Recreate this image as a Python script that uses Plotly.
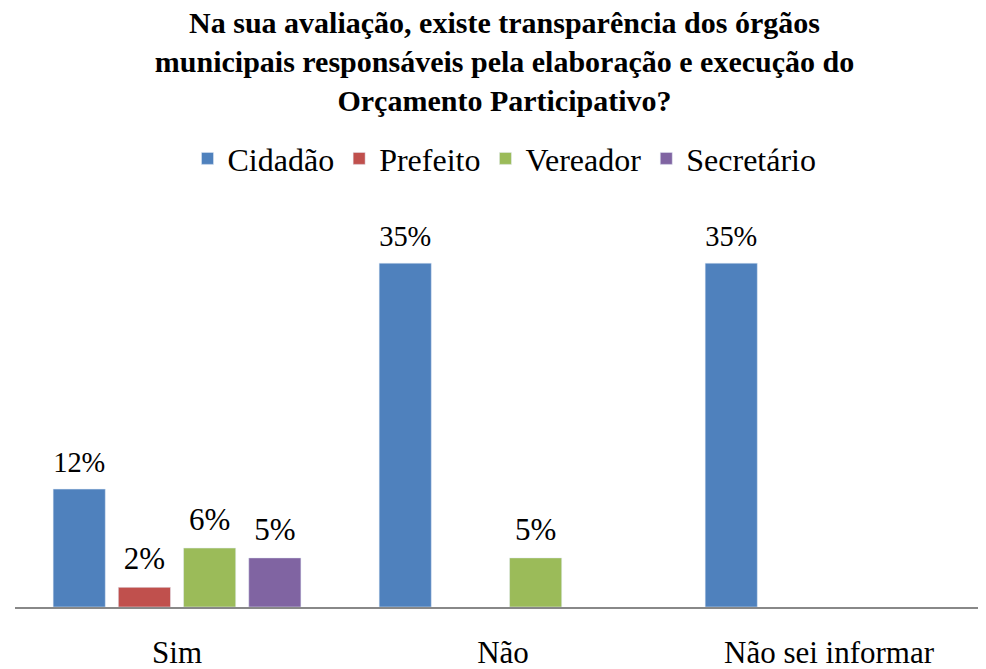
import plotly.graph_objects as go

categories = ["Sim", "Não", "Não sei informar"]
series_names = ["Cidadão", "Prefeito", "Vereador", "Secretário"]
cidadao = [12, 35, 35]
prefeito = [2, None, None]
vereador = [6, 5, None]
secretario = [5, None, None]
colors = ["#4F81BD", "#C0504D", "#9BBB59", "#8064A2"]

title_text = ("<b>Na sua avaliação, existe transparência dos órgãos<br>"
              "municipais responsáveis pela elaboração e execução do<br>"
              "Orçamento Participativo?</b>")

serif = "Liberation Serif, Times New Roman, serif"


def label(v):
    # small blank second line lifts the label a little higher above the bar
    if v is None:
        return ""
    return f"<span style='font-size:31px'>{v}%</span><br> "


fig = go.Figure()
for name, vals, color in zip(series_names, [cidadao, prefeito, vereador, secretario], colors):
    fig.add_trace(go.Bar(
        x=categories,
        y=vals,
        name=name,
        marker_color=color,
        text=[label(v) for v in vals],
        textposition="outside",
        textfont=dict(family=serif, size=10, color="black"),
        cliponaxis=False,
    ))

fig.update_layout(
    width=986,
    height=669,
    barmode="group",
    bargap=0.2,
    bargroupgap=0.2,
    plot_bgcolor="white",
    paper_bgcolor="white",
    font=dict(family=serif, color="black"),
    title=dict(text=title_text, x=0.5, xanchor="center", xref="paper",
               y=1 - 25 / 669, yanchor="middle", yref="container",
               font=dict(family=serif, size=30, color="black")),
    legend=dict(orientation="h", x=0.5, xanchor="center", y=1.141, yanchor="middle",
                font=dict(family=serif, size=32), itemwidth=30),
    margin=dict(l=7, r=0, t=206, b=70),
    showlegend=True,
)
fig.update_xaxes(showline=True, linecolor="#888888", linewidth=2, ticks="",
                 range=[-0.497, 2.506], automargin=False,
                 tickfont=dict(family=serif, size=31), ticklabelstandoff=17)
fig.update_yaxes(range=[0, 40], visible=False, automargin=False)

fig.write_html("out.html")
